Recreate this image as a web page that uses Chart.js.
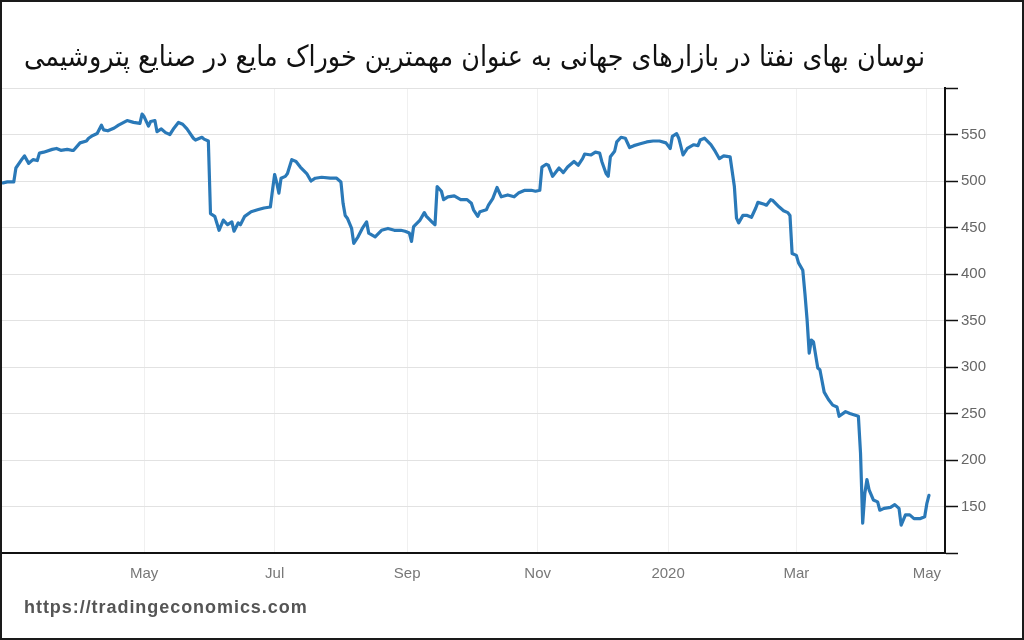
<!DOCTYPE html>
<html lang="fa">
<head>
<meta charset="utf-8">
<title>نوسان بهای نفتا</title>
<script src="https://cdn.jsdelivr.net/npm/chart.js@4.4.1/dist/chart.umd.min.js"></script>
<style>
html,body{margin:0;padding:0;background:#fff;}
#frame{position:relative;width:1024px;height:640px;overflow:hidden;background:#fff;}
#chart{position:absolute;left:0;top:0;}
#border{position:absolute;left:0;top:0;width:1024px;height:640px;box-sizing:border-box;border:2px solid #1a1a1a;pointer-events:none;z-index:3;}
#title{position:absolute;top:40px;right:99px;text-align:right;direction:rtl;font-family:"DejaVu Sans Condensed","DejaVu Sans",sans-serif;font-size:28.3px;color:#111;white-space:nowrap;z-index:2;}
#source{position:absolute;left:24px;top:597px;font-family:"Liberation Sans",Arial,sans-serif;font-weight:bold;font-size:18px;color:#555;letter-spacing:0.95px;z-index:2;}
</style>
</head>
<body>
<div id="frame">
  <canvas id="chart" width="1024" height="640"></canvas>
  <div id="title">نوسان بهای نفتا در بازارهای جهانی به عنوان مهمترین خوراک مایع در صنایع پتروشیمی</div>
  <div id="source">https://tradingeconomics.com</div>
  <div id="border"></div>
</div>
<script>
// Day offsets relative to baseDate
const baseDate = '2019-05-01';
const dayOffsets = [
  -66,-64,-61,-60,-57,-56,-54,-52,-50,-49,
  -47,-43,-41,-39,-36,-34,-33,-30,-27,-26,
  -24,-22,-20,-19,-17,-14,-12,-8,-5,-2,
  -1,0,2,3,5,6,8,10,12,14,
  16,18,20,23,24,27,28,30,31,33,
  35,37,39,41,42,44,45,47,50,53,
  56,59,60,61,62,63,64,66,67,69,
  71,73,76,78,80,83,87,90,92,93,
  94,95,97,98,100,102,104,105,108,111,
  114,117,120,122,124,125,126,129,131,132,
  135,136,137,139,140,142,145,148,151,153,
  154,156,157,160,161,163,165,167,170,173,
  175,178,181,183,185,186,188,189,191,192,
  194,196,198,201,203,205,206,209,211,213,
  214,216,217,218,220,221,223,225,227,229,
  232,235,238,241,244,246,247,249,250,252,
  254,257,259,260,262,265,267,269,271,274,
  276,277,278,280,282,284,286,287,290,291,
  293,294,297,299,301,302,303,305,306,308,
  309,310,311,312,313,315,316,318,320,322,
  324,325,328,330,334,335,336,337,338,339,
  341,343,344,346,349,351,353,354,356,358,
  360,363,365,366,367
];
const naphthaPrices = [
  498,499,499,514,524,527,519,523,522,530,
  531,534,535,533,534,533,533,541,543,546,
  549,551,560,555,554,557,560,565,563,562,
  572,569,559,564,565,553,556,552,550,557,
  563,561,556,546,544,547,545,543,465,462,
  447,458,453,456,446,455,453,462,467,469,
  471,472,490,507,498,487,503,505,508,523,
  521,515,508,500,503,504,503,503,499,476,
  463,460,449,433,440,449,456,444,440,447,
  449,447,447,446,444,435,451,458,466,462,
  455,453,494,489,480,483,484,480,480,476,
  469,462,467,469,474,481,493,483,485,483,
  487,490,490,489,490,515,518,517,505,508,
  514,509,515,521,517,524,529,528,531,530,
  521,508,505,526,532,542,547,546,536,538,
  540,542,543,543,541,535,548,551,546,528,
  535,539,538,544,546,539,532,524,527,526,
  494,460,455,463,463,461,471,477,475,474,
  480,479,472,468,466,463,422,420,412,404,
  379,351,315,329,327,299,297,273,265,259,
  257,247,252,250,247,207,132,164,179,168,
  157,155,146,148,149,152,148,130,141,141,
  137,137,139,153,162
];
const tickDates = ['2019-05-01','2019-07-01','2019-09-01','2019-11-01','2020-01-01','2020-03-01','2020-05-01'];
const tickLabels = ['May','Jul','Sep','Nov','2020','Mar','May'];
const rangeStart = '2019-02-23';
const rangeEnd = '2020-05-09';
const yMin = 100, yMax = 600, yStep = 50;

const DAY = 86400000;
const dayOf = s => Math.round((Date.parse(s) - Date.parse(baseDate)) / DAY);
const tickOffsets = tickDates.map(dayOf);

const points = dayOffsets.map((d, i) => ({ x: d, y: naphthaPrices[i] }));

new Chart(document.getElementById('chart'), {
  type: 'line',
  data: {
    datasets: [{
      data: points,
      borderColor: '#2a79b8',
      borderWidth: 3.2,
      pointRadius: 0,
      tension: 0,
      fill: false,
      borderJoinStyle: 'round',
      borderCapStyle: 'round'
    }]
  },
  options: {
    responsive: false,
    animation: false,
    events: [],
    layout: { padding: { top: 88, left: 2, right: 0, bottom: 0 } },
    plugins: { legend: { display: false }, tooltip: { enabled: false }, title: { display: false } },
    scales: {
      x: {
        type: 'linear',
        min: dayOf(rangeStart) + 0.5,
        max: dayOf(rangeEnd) + 0.5,
        afterBuildTicks: axis => { axis.ticks = tickOffsets.map(v => ({ value: v })); },
        afterFit: axis => { axis.height = 87; },
        ticks: {
          autoSkip: false,
          maxRotation: 0,
          padding: 12,
          color: '#777',
          font: { family: 'Liberation Sans', size: 15 },
          callback: v => { const i = tickOffsets.indexOf(v); return i >= 0 ? tickLabels[i] : ''; }
        },
        grid: { color: '#f0f0f0', drawTicks: false },
        border: { color: '#111', width: 2 }
      },
      y: {
        position: 'right',
        min: yMin,
        max: yMax,
        afterFit: axis => { axis.width = 79; },
        ticks: {
          stepSize: yStep,
          padding: 3,
          color: '#666',
          font: { family: 'Liberation Sans', size: 15 },
          callback: v => (v === yMin || v === yMax) ? '' : String(v)
        },
        grid: { color: '#e2e2e2', tickColor: '#111', tickLength: 13, tickWidth: 1.5 },
        border: { color: '#111', width: 2 }
      }
    }
  }
});
</script>
</body>
</html>
